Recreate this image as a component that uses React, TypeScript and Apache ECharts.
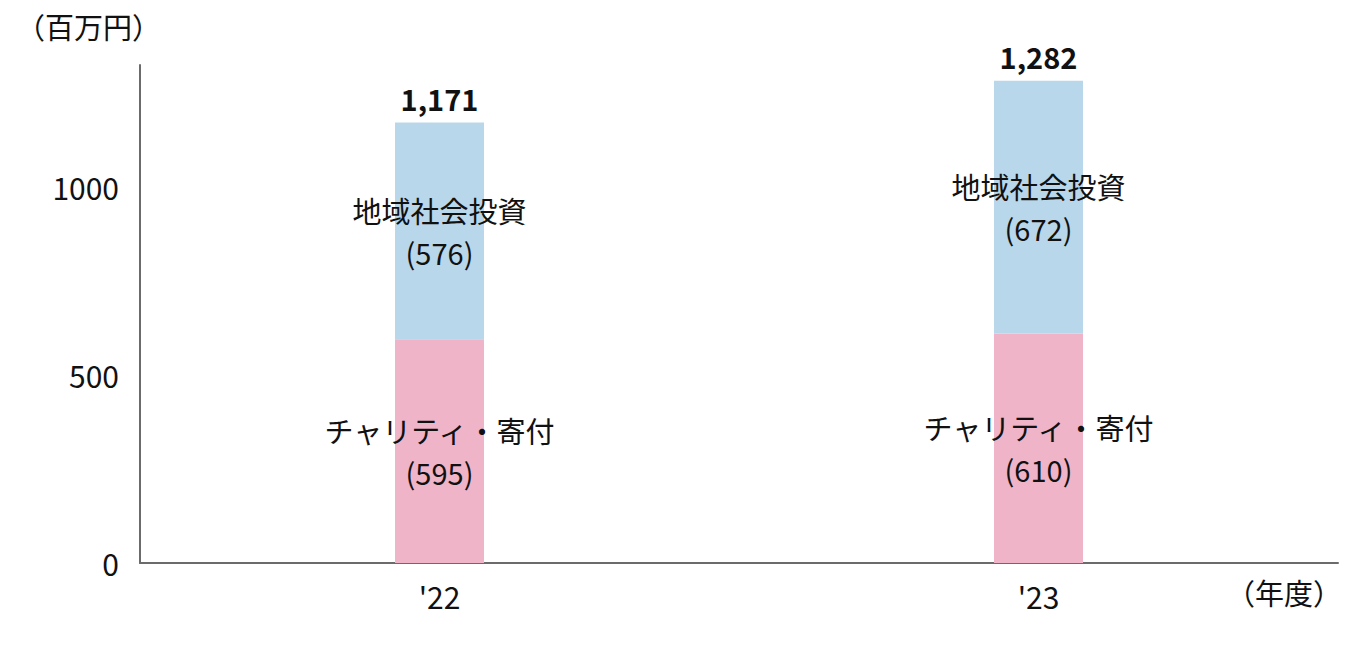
import React, { useEffect, useRef } from "react";
import * as echarts from "echarts";

const years: string[] = ["'22", "'23"];
const charity: number[] = [595, 610];
const community: number[] = [576, 672];
const totals: number[] = [1171, 1282];
const yTicks: number[] = [0, 500, 1000];

const FONT = "'Noto Sans CJK JP', 'Noto Sans', sans-serif";

const App: React.FC = () => {
  const chartRef = useRef<HTMLDivElement | null>(null);

  useEffect(() => {
    const chartDom = chartRef.current;
    if (!chartDom) return;
    const myChart = echarts.init(chartDom, undefined, { renderer: "svg" });

    const option = {
      animation: false,
      backgroundColor: "#ffffff",
      textStyle: { fontFamily: FONT },
      grid: { left: 140, right: 28, top: 65, bottom: 87 },
      graphic: [
        {
          type: "text",
          left: 16,
          top: 11,
          style: { text: "（百万円）", fontSize: 29, fill: "#111", fontFamily: FONT },
        },
        {
          type: "text",
          right: 24,
          top: 577,
          style: { text: "（年度）", fontSize: 29, fill: "#111", fontFamily: FONT },
        },
      ],
      xAxis: {
        type: "category",
        data: years,
        axisLine: { lineStyle: { color: "#6b6b6b", width: 2 } },
        axisTick: { show: false },
        axisLabel: { color: "#111", fontSize: 30, margin: 18, fontFamily: FONT },
      },
      yAxis: {
        type: "value",
        min: 0,
        max: 1324,
        interval: 500,
        axisLine: { show: true, lineStyle: { color: "#6b6b6b", width: 2 } },
        axisTick: { show: false },
        splitLine: { show: false },
        axisLabel: {
          color: "#111",
          fontSize: 30,
          margin: 21,
          fontFamily: FONT,
          formatter: (v: number) => (yTicks.includes(v) ? String(v) : ""),
        },
      },
      series: [
        {
          name: "チャリティ・寄付",
          type: "bar",
          stack: "total",
          barWidth: 89,
          data: charity,
          itemStyle: { color: "#efb4c8" },
          label: {
            show: true,
            position: "inside",
            color: "#111",
            fontSize: 29,
            lineHeight: 42,
            fontFamily: FONT,
            formatter: (p: any) => `チャリティ・寄付\n(${p.value})`,
          },
        },
        {
          name: "地域社会投資",
          type: "bar",
          stack: "total",
          barWidth: 89,
          data: community,
          itemStyle: { color: "#b9d7ea" },
          label: {
            show: true,
            position: "inside",
            color: "#111",
            fontSize: 29,
            lineHeight: 42,
            fontFamily: FONT,
            formatter: (p: any) => `地域社会投資\n(${p.value})`,
          },
        },
        {
          name: "合計",
          type: "bar",
          stack: "total",
          barWidth: 89,
          data: totals.map(() => 0),
          itemStyle: { color: "transparent" },
          label: {
            show: true,
            position: "top",
            distance: 10,
            color: "#111",
            fontSize: 29,
            fontWeight: "bold",
            fontFamily: FONT,
            formatter: (p: any) => totals[p.dataIndex].toLocaleString("en-US"),
          },
        },
      ],
    };

    myChart.setOption(option);
    return () => {
      myChart.dispose();
    };
  }, []);

  return <div ref={chartRef} style={{ width: 1366, height: 650, margin: -8 }} />;
};

export default App;
